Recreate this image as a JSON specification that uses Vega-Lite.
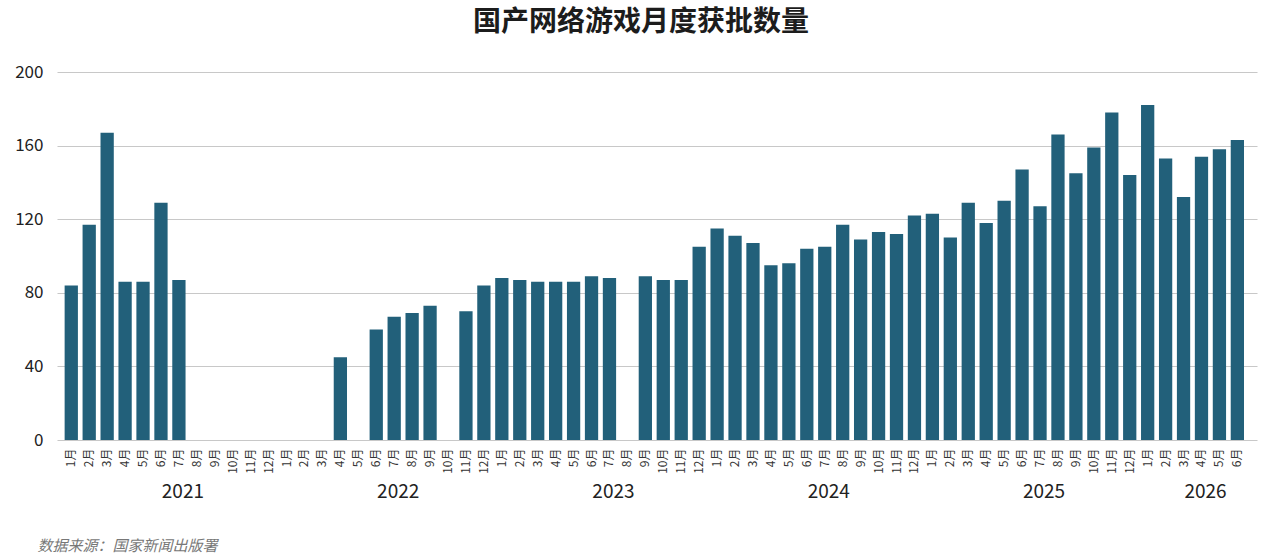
{
  "$schema": "https://vega.github.io/schema/vega-lite/v6.json",
  "autosize": {"type": "none"},
  "width": 1200,
  "height": 368,
  "padding": {"left": 57, "top": 72, "right": 23, "bottom": 117},
  "title": {
    "text": "国产网络游戏月度获批数量",
    "anchor": "middle",
    "dx": -16,
    "offset": 26,
    "fontSize": 28,
    "fontWeight": "bold",
    "color": "#1c1c1c"
  },
  "data": {
    "values": [
      {"ym": "2021-01", "count": 84}, {"ym": "2021-02", "count": 117}, {"ym": "2021-03", "count": 167},
      {"ym": "2021-04", "count": 86}, {"ym": "2021-05", "count": 86}, {"ym": "2021-06", "count": 129},
      {"ym": "2021-07", "count": 87}, {"ym": "2021-08", "count": null}, {"ym": "2021-09", "count": null},
      {"ym": "2021-10", "count": null}, {"ym": "2021-11", "count": null}, {"ym": "2021-12", "count": null},
      {"ym": "2022-01", "count": null}, {"ym": "2022-02", "count": null}, {"ym": "2022-03", "count": null},
      {"ym": "2022-04", "count": 45}, {"ym": "2022-05", "count": null}, {"ym": "2022-06", "count": 60},
      {"ym": "2022-07", "count": 67}, {"ym": "2022-08", "count": 69}, {"ym": "2022-09", "count": 73},
      {"ym": "2022-10", "count": null}, {"ym": "2022-11", "count": 70}, {"ym": "2022-12", "count": 84},
      {"ym": "2023-01", "count": 88}, {"ym": "2023-02", "count": 87}, {"ym": "2023-03", "count": 86},
      {"ym": "2023-04", "count": 86}, {"ym": "2023-05", "count": 86}, {"ym": "2023-06", "count": 89},
      {"ym": "2023-07", "count": 88}, {"ym": "2023-08", "count": null}, {"ym": "2023-09", "count": 89},
      {"ym": "2023-10", "count": 87}, {"ym": "2023-11", "count": 87}, {"ym": "2023-12", "count": 105},
      {"ym": "2024-01", "count": 115}, {"ym": "2024-02", "count": 111}, {"ym": "2024-03", "count": 107},
      {"ym": "2024-04", "count": 95}, {"ym": "2024-05", "count": 96}, {"ym": "2024-06", "count": 104},
      {"ym": "2024-07", "count": 105}, {"ym": "2024-08", "count": 117}, {"ym": "2024-09", "count": 109},
      {"ym": "2024-10", "count": 113}, {"ym": "2024-11", "count": 112}, {"ym": "2024-12", "count": 122},
      {"ym": "2025-01", "count": 123}, {"ym": "2025-02", "count": 110}, {"ym": "2025-03", "count": 129},
      {"ym": "2025-04", "count": 118}, {"ym": "2025-05", "count": 130}, {"ym": "2025-06", "count": 147},
      {"ym": "2025-07", "count": 127}, {"ym": "2025-08", "count": 166}, {"ym": "2025-09", "count": 145},
      {"ym": "2025-10", "count": 159}, {"ym": "2025-11", "count": 178}, {"ym": "2025-12", "count": 144},
      {"ym": "2026-01", "count": 182}, {"ym": "2026-02", "count": 153}, {"ym": "2026-03", "count": 132},
      {"ym": "2026-04", "count": 154}, {"ym": "2026-05", "count": 158}, {"ym": "2026-06", "count": 163}
    ]
  },
  "layer": [
    {
      "mark": {"type": "bar", "color": "#22607a"},
      "encoding": {
        "x": {
          "field": "ym",
          "type": "ordinal",
          "scale": {"paddingInner": 0.26, "paddingOuter": 0.575, "align": 0.37},
          "axis": {
            "title": null,
            "labelExpr": "parseInt(substring(datum.value, 5)) + '月'",
            "labelAngle": -90,
            "labelAlign": "right",
            "labelBaseline": "middle",
            "labelPadding": 8,
            "labelFontSize": 12,
            "labelColor": "#333333",
            "ticks": false,
            "domain": false
          }
        },
        "y": {
          "field": "count",
          "type": "quantitative",
          "scale": {"domain": [0, 200]},
          "axis": {
            "title": null,
            "values": [0, 40, 80, 120, 160, 200],
            "labelFontSize": 17,
            "labelPadding": 14,
            "labelColor": "#222222",
            "ticks": false,
            "domain": false,
            "grid": true,
            "gridColor": "#c8c8c8",
            "gridWidth": 1.2
          }
        }
      }
    },
    {
      "mark": {"type": "tick", "opacity": 0},
      "encoding": {
        "x": {
          "field": "ym",
          "type": "ordinal",
          "axis": {
            "orient": "bottom",
            "labelExpr": "(substring(datum.value, 5) == '07' || datum.value == '2026-04') ? substring(datum.value, 0, 4) : ''",
            "labelAngle": 0,
            "labelAlign": "center",
            "labelBaseline": "top",
            "labelPadding": 42,
            "labelOffset": 4,
            "labelFontSize": 19,
            "labelColor": "#222222",
            "labelOverlap": false,
            "ticks": false,
            "domain": false,
            "grid": false,
            "title": "数据来源：国家新闻出版署",
            "titleAnchor": "start",
            "titleAlign": "left",
            "titleBaseline": "middle",
            "titleX": -20,
            "titleY": 105,
            "titleFontSize": 15,
            "titleFontStyle": "italic",
            "titleFontWeight": "normal",
            "titleColor": "#777777"
          }
        }
      }
    }
  ],
  "resolve": {"axis": {"x": "independent"}},
  "config": {
    "font": "Noto Sans CJK SC",
    "view": {"stroke": null}
  }
}
